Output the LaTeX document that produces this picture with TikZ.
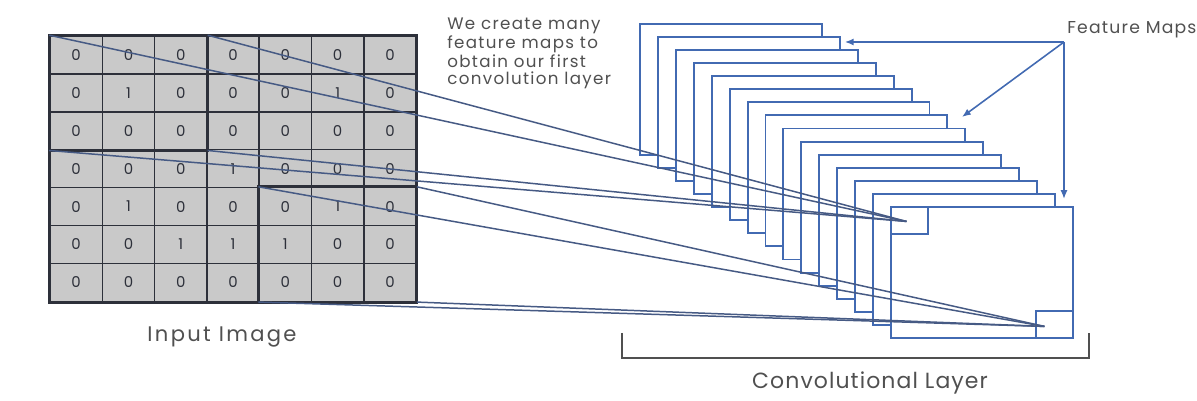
\documentclass[tikz,border=0pt]{standalone}
\usepackage{fontspec}
\setmainfont{Poppins}
\usetikzlibrary{arrows.meta,calc}

\definecolor{cellgray}{RGB}{201,201,201}
\definecolor{celldark}{RGB}{45,48,58}
\definecolor{mapblue}{RGB}{66,106,178}
\definecolor{rayblue}{RGB}{70,90,132}
\definecolor{labelgray}{RGB}{80,80,80}

\tikzset{
  cell/.style={draw=celldark,line width=0.9pt,fill=cellgray,minimum width=1.046cm,
    minimum height=0.758cm,inner sep=0pt,text=celldark,font=\fontsize{8.5}{10}\selectfont},
  window/.style={draw=celldark,line width=1.8pt},
  fmap/.style={draw=mapblue,fill=white,line width=1.1pt,minimum width=3.64cm,
    minimum height=2.62cm,anchor=north west,inner sep=0pt},
  patch/.style={draw=mapblue,line width=1.1pt,minimum width=0.74cm,minimum height=0.54cm,
    anchor=north west,inner sep=0pt},
  ray/.style={draw=rayblue,line width=0.85pt},
  pointer/.style={draw=mapblue,line width=0.9pt,-{Latex[length=5pt,width=4pt]}},
  caption/.style={text=labelgray,inner sep=0pt}
}

\begin{document}
\begin{tikzpicture}[x=0.02cm,y=-0.02cm]
\useasboundingbox (0,0) rectangle (1197,401);

% input image
\foreach \vals [count=\row from 0] in {{0,0,0,0,0,0,0},{0,1,0,0,0,1,0},{0,0,0,0,0,0,0},
    {0,0,0,1,0,0,0},{0,1,0,0,0,1,0},{0,0,1,1,1,0,0},{0,0,0,0,0,0,0}}
  \foreach \v [count=\col from 0] in \vals
    \node (c\row\col) at ({76.15+52.3*\col},{54.95+37.9*\row}) [cell] {\v};
\draw[window] (c00.north west) rectangle (c66.south east);
\draw[window] (c00.north west) rectangle (c22.south east);
\draw[window] (c44.north west) rectangle (c66.south east);

% feature maps, back to front
\foreach \i in {0,...,14}
  \node (f\i) at ({639+17.93*\i},{23+13.07*\i}) [fmap] {};
\node (k1) at (f14.north west) [patch] {};
\node (k2) at (f14.south east) [patch,anchor=south east] {};
\coordinate (p1) at ($(k1.center)+(-3,1)$);
\coordinate (p2) at ($(k2.center)+(-10,2)$);

\path[ray]
(c00.north west) edge (p1)
(c02.north east) edge (p1)
(c20.south west) edge (p1)
(c22.south east) edge (p1)
(c44.north west) edge (p2)
(c46.north east) edge (p2)
(c64.south west) edge (p2)
(c66.south east) edge (p2);

% labels
\node (fmlabel) at (1067,30) [caption,anchor=west,
  font=\fontsize{9.8}{11}\selectfont\addfontfeature{LetterSpace=7}] {Feature Maps};
\coordinate (hub) at (1064,42);
\draw[pointer] (hub) -- ($(f1.east|-hub)+(4,0)$);
\draw[pointer] (hub) -- (962,117);
\draw[pointer] (hub) -- ($(hub|-f14.north)+(0,-7)$);

\node (note) at (447,18) [caption,anchor=north west,align=left,
  font=\fontsize{9.5}{9.6}\selectfont\addfontfeature{LetterSpace=8}]
{We create many\\feature maps to\\obtain our first\\convolution layer};

\node (inlabel) at (222,337) [caption,
  font=\fontsize{12}{13}\selectfont\addfontfeature{LetterSpace=11}] {Input Image};

\draw[draw=labelgray,line width=1pt] (622,333) -- (622,358) -- (1089,358) -- (1089,333);
\node (convlabel) at (870,383) [caption,
  font=\fontsize{12.5}{14}\selectfont\addfontfeature{LetterSpace=5}] {Convolutional Layer};
\end{tikzpicture}
\end{document}
